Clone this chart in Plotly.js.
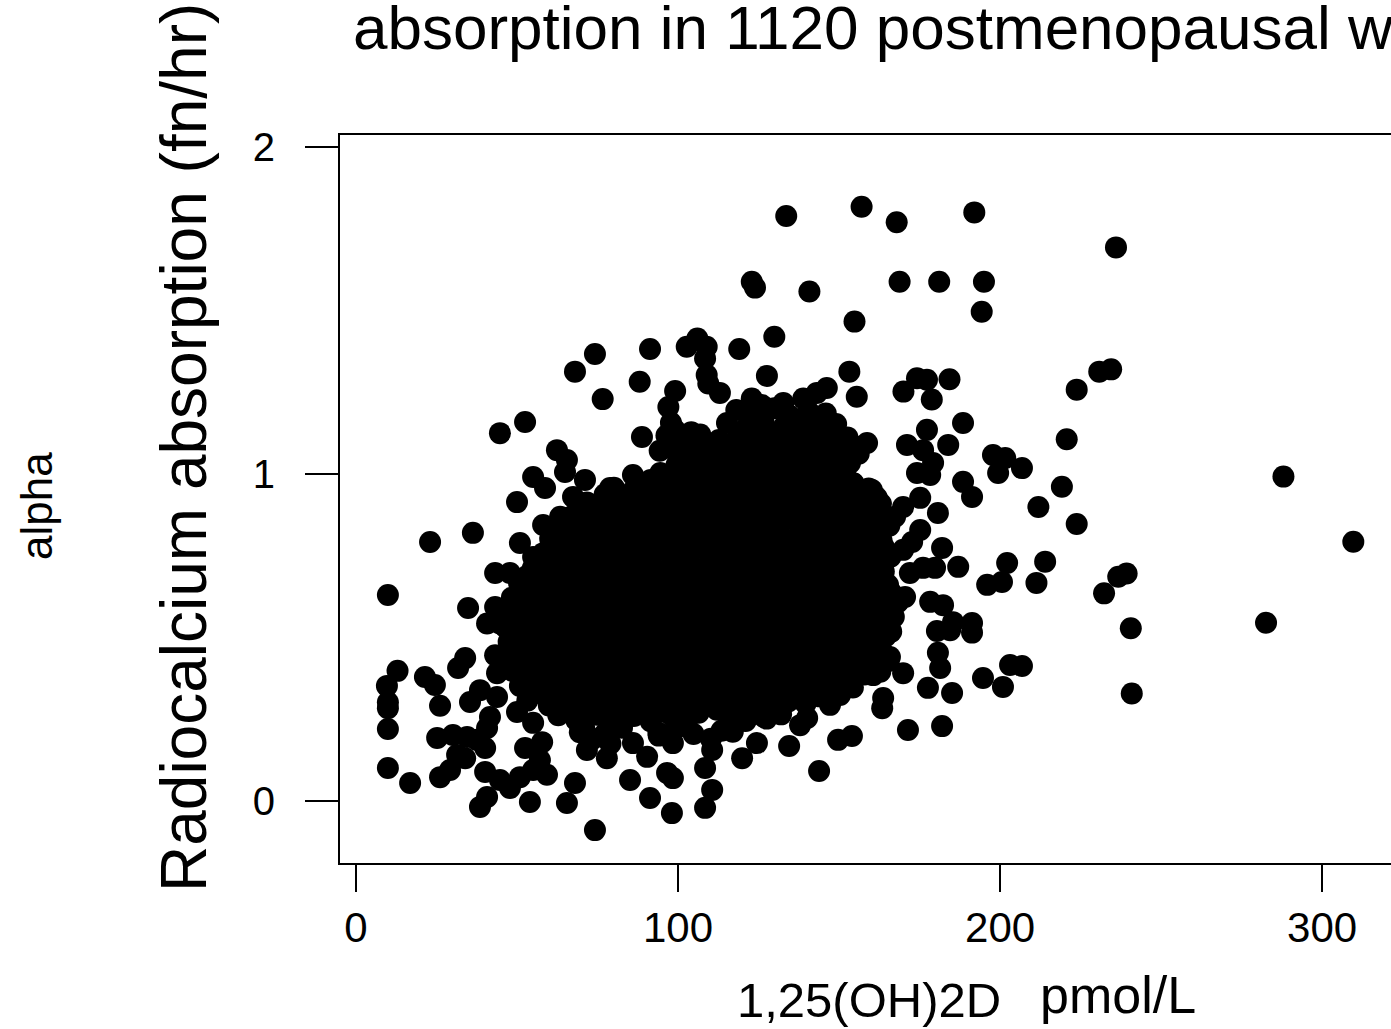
<!DOCTYPE html>
<html>
<head>
<meta charset="utf-8">
<script src="https://cdn.plot.ly/plotly-3.0.1.min.js"></script>
<style>
html,body{margin:0;padding:0;background:#fff;overflow:hidden;width:1391px;height:1029px;}
#chart{width:1391px;height:1029px;}
</style>
</head>
<body>
<div id="chart"></div>
<script>
// Tick labels
const xTickVals = [0, 100, 200, 300];
const xTickText = ['0', '100', '200', '300'];
const yTickVals = [0, 1, 2];
const yTickText = ['0', '1', '2'];

// Text
const titleText = 'absorption in 1120 postmenopausal women';
const yLabel = 'Radiocalcium absorption (fn/hr)';
const sideLabel = 'alpha';
const xLabelLeft = '1,25(OH)2D';
const xLabelRight = 'pmol/L';

// [1,25(OH)2D pmol/L, radiocalcium absorption fn/hr]
const upperOutliers = [
 [133.6,1.789],[157.0,1.817],[167.9,1.770],[192.0,1.800],[236.0,1.693],
 [122.9,1.588],[123.9,1.570],[140.8,1.558],[168.8,1.588],[181.1,1.588],[195.0,1.588],[194.3,1.496],[154.8,1.466],[129.9,1.420],
 [74.2,1.367],[68.0,1.313],[76.6,1.229],[91.3,1.382],[88.1,1.282],[99.1,1.254],[102.7,1.389],[106.0,1.414],[108.9,1.389],[108.4,1.353],
 [108.9,1.303],[109.4,1.277],[113.0,1.248],[97.0,1.205],[119.0,1.382],[127.6,1.300],[153.2,1.313],[155.5,1.236],
 [122.9,1.231],[126.0,1.211],[132.7,1.217],[138.9,1.231],[143.1,1.248],[146.2,1.263],
 [170.0,1.252],[174.2,1.293],[177.3,1.288],[178.8,1.228],[184.3,1.290],
 [223.8,1.258],[230.8,1.313],[234.5,1.320]
];

const rightSide = [
 [115.2,1.156],[188.5,1.156],[177.3,1.135],[171.1,1.089],[176.1,1.073],[183.9,1.089],[179.2,1.034],[174.2,1.003],[178.3,0.997],
 [197.8,1.058],[201.6,1.049],[199.4,1.003],[206.8,1.018],[188.5,0.976],[191.3,0.930],[211.9,0.899],[175.2,0.927],[169.9,0.899],
 [167.4,0.869],[180.7,0.881],[175.2,0.829],[172.7,0.792],[169.9,0.768],[182.0,0.774],[187.0,0.716],[202.2,0.728],[200.6,0.670],
 [196.0,0.661],[211.3,0.667],[172.0,0.697],[176.1,0.713],[179.8,0.713],[170.5,0.624],[167.4,0.606],[178.3,0.609],[182.3,0.599],
 [185.4,0.547],[191.3,0.544],[158.7,1.095],[155.6,1.083],[153.4,1.034],[154.3,0.972],[160.2,0.951],[159.6,0.890],[157.5,0.859],
 [160.6,0.844],[220.7,1.106],[219.2,0.961],[223.8,0.847],[214.0,0.732],[236.7,0.686],[239.3,0.696],[232.3,0.635],[240.6,0.528],
 [288.0,0.992],[309.7,0.793],[282.6,0.545],[240.9,0.329],[180.4,0.520],[184.5,0.522],[191.3,0.515]
];

const lowerRight = [
 [108.4,-0.021],[110.6,0.034],[108.4,0.101],[110.6,0.156],[119.9,0.131],[124.5,0.177],[134.5,0.168],[143.8,0.092],[149.7,0.187],
 [154.0,0.199],[137.9,0.232],[140.1,0.254],[147.2,0.294],[150.3,0.324],[163.4,0.284],[163.7,0.315],[171.4,0.217],[182.0,0.229],
 [160.6,0.385],[165.8,0.440],[169.9,0.391],[177.6,0.346],[185.1,0.330],[181.4,0.407],[180.7,0.453],[194.7,0.376],[200.9,0.349],
 [203.1,0.416],[206.8,0.413],[153.4,0.453],[104.8,0.205],[110.2,0.190],[113.5,0.215],[121.0,0.245],[127.5,0.252],[132.0,0.265],
 [136.3,0.400],[141.0,0.370],[147.5,0.382],[144.0,0.320]
];

const leftTail = [
 [12.9,0.398],[9.6,0.352],[9.9,0.302],[9.9,0.284],[9.9,0.220],[9.9,0.101],[16.8,0.055],[21.4,0.379],[24.5,0.355],[26.1,0.291],
 [33.9,0.437],[31.7,0.407],[43.2,0.446],[43.8,0.391],[38.5,0.339],[43.8,0.318],[35.4,0.303],[41.6,0.257],[40.7,0.223],[25.2,0.193],
 [30.1,0.202],[34.5,0.196],[37.6,0.187],[31.4,0.141],[33.9,0.131],[26.1,0.073],[29.2,0.095],[40.1,0.162],[40.1,0.089],[44.7,0.064],
 [47.8,0.040],[40.7,0.012],[38.5,-0.018],[54.0,-0.003],[50.9,0.073],[55.0,0.095],[59.3,0.080],[52.5,0.162],[57.8,0.180],[57.1,0.125],
 [50.0,0.272],[55.0,0.239],[68.0,0.055],[65.5,-0.006],[74.2,-0.089],[71.7,0.156],[77.9,0.131],[85.1,0.064],[91.3,0.009],[98.1,-0.037],
 [96.6,0.086],[98.4,0.070],[86.0,0.177],[90.4,0.135],[98.4,0.177],[69.5,0.210],[73.5,0.190],[79.0,0.175],[94.0,0.200],[101.0,0.230],
 [44.7,1.125],[52.5,1.159],[88.8,1.113],[62.4,1.073],[65.5,1.043],[64.9,1.006],[55.0,0.991],[58.7,0.957],[71.1,0.982],[67.4,0.930],
 [50.0,0.914],[78.9,0.957],[86.0,0.997],[88.8,0.957],[23.0,0.792],[36.3,0.820],[50.9,0.789],[9.9,0.630],[43.2,0.697],[47.8,0.697],
 [34.8,0.590],[43.2,0.593],[40.7,0.543],[44.7,0.543],[51.6,0.667],[55.0,0.746],[60.2,0.777],[58.1,0.844],[63.4,0.869],[75.8,0.910],
 [81.0,0.930]
];

const denseCore = [
 [118.1,1.196],[123.6,1.183],[129.9,1.201],[134.7,1.178],[140.5,1.192],[145.9,1.185],
 [97.8,1.157],[121.2,1.142],[126.5,1.161],[132.9,1.146],[138.3,1.158],[143.6,1.139],[149.1,1.153],
 [96.4,1.118],[101.2,1.102],[106.9,1.121],[112.7,1.104],[118.8,1.115],[124.0,1.098],[130.3,1.117],[135.7,1.106],[141.5,1.120],[147.2,1.101],[152.6,1.112],
 [94.3,1.071],[99.9,1.058],[105.6,1.074],[110.4,1.060],[116.9,1.069],[122.5,1.055],[128.2,1.072],[133.4,1.061],[139.6,1.075],[144.8,1.057],[150.7,1.068],[156.1,1.062],
 [99.5,1.027],[105.1,1.012],[111.6,1.029],[117.0,1.014],[122.8,1.024],[128.9,1.009],[134.2,1.026],[140.1,1.015],[146.3,1.028],[151.8,1.011],
 [91.5,0.982],[97.2,0.968],[102.6,0.985],[108.9,0.969],[114.1,0.980],[119.8,0.964],[126.0,0.983],[131.2,0.971],[137.4,0.986],[142.8,0.966],[148.9,0.978],[154.5,0.972],
 [77.2,0.937],[83.0,0.921],[88.4,0.940],[94.1,0.924],[99.3,0.935],[105.5,0.918],[110.9,0.938],[116.6,0.926],[122.9,0.941],[128.0,0.920],[134.4,0.933],[139.5,0.925],[145.8,0.939],[151.2,0.922],[156.9,0.934],[161.7,0.928],
 [68.9,0.892],[74.6,0.877],[80.1,0.894],[85.8,0.879],[91.7,0.890],[97.1,0.874],[103.3,0.893],[108.2,0.881],[114.6,0.896],[120.4,0.876],[125.5,0.888],[131.9,0.880],[137.3,0.895],[142.7,0.878],[148.6,0.889],[154.8,0.883],[160.3,0.891],
 [63.2,0.847],[69.4,0.832],[74.5,0.849],[80.9,0.834],[86.0,0.845],[92.3,0.829],[97.5,0.848],[103.9,0.836],[109.1,0.851],[115.4,0.831],[120.6,0.843],[126.8,0.835],[132.0,0.850],[138.3,0.833],[143.5,0.844],[149.8,0.838],[155.2,0.846],[161.0,0.830],[165.6,0.842],
 [60.3,0.802],[65.4,0.787],[71.9,0.804],[77.0,0.789],[83.5,0.800],[88.6,0.784],[94.9,0.803],[100.0,0.791],[106.4,0.806],[111.7,0.786],[117.9,0.798],[123.1,0.790],[129.4,0.805],[134.6,0.788],[140.9,0.799],[146.1,0.793],[152.5,0.801],[157.6,0.785],[163.2,0.797],
 [58.0,0.757],[64.1,0.742],[69.2,0.759],[75.7,0.744],[80.8,0.755],[87.2,0.739],[92.4,0.758],[98.6,0.746],[103.8,0.761],[110.1,0.741],[115.3,0.753],[121.6,0.745],[126.7,0.760],[133.1,0.743],[138.2,0.754],[144.5,0.748],[149.7,0.756],[156.0,0.740],[161.1,0.752],[166.0,0.747],
 [54.9,0.712],[60.1,0.697],[66.5,0.714],[71.6,0.699],[78.0,0.710],[83.2,0.694],[89.5,0.713],[94.7,0.701],[101.0,0.716],[106.2,0.696],[112.6,0.708],[117.7,0.700],[124.1,0.715],[129.2,0.698],[135.6,0.709],[140.8,0.703],[147.1,0.711],[152.3,0.695],[158.6,0.707],[163.9,0.702],
 [50.6,0.667],[55.7,0.652],[62.1,0.669],[67.2,0.654],[73.6,0.665],[78.7,0.649],[85.1,0.668],[90.2,0.656],[96.6,0.671],[101.8,0.651],[108.1,0.663],[113.3,0.655],[119.6,0.670],[124.8,0.653],[131.1,0.664],[136.3,0.658],[142.7,0.666],[147.8,0.650],[154.2,0.662],[159.4,0.657],[165.2,0.661],
 [48.4,0.622],[54.6,0.607],[59.7,0.624],[66.1,0.609],[71.2,0.620],[77.6,0.604],[82.7,0.623],[89.1,0.611],[94.3,0.626],[100.6,0.606],[105.8,0.618],[112.1,0.610],[117.3,0.625],[123.7,0.608],[128.8,0.619],[135.2,0.613],[140.3,0.621],[146.7,0.605],[151.9,0.617],[158.2,0.612],[163.4,0.620],[168.3,0.608],
 [47.1,0.577],[52.3,0.562],[58.6,0.579],[63.8,0.564],[70.2,0.575],[75.3,0.559],[81.7,0.578],[86.8,0.566],[93.2,0.581],[98.4,0.561],[104.7,0.573],[109.9,0.565],[116.3,0.580],[121.4,0.563],[127.8,0.574],[132.9,0.568],[139.3,0.576],[144.4,0.560],[150.8,0.572],[156.0,0.567],[162.3,0.575],[167.0,0.563],
 [46.3,0.532],[51.0,0.517],[57.4,0.534],[62.6,0.519],[68.9,0.530],[74.1,0.514],[80.5,0.533],[85.6,0.521],[92.0,0.536],[97.1,0.516],[103.5,0.528],[108.6,0.520],[115.0,0.535],[120.2,0.518],[126.5,0.529],[131.7,0.523],[138.1,0.531],[143.2,0.515],[149.6,0.527],[154.7,0.522],[161.1,0.530],[166.2,0.518],
 [47.4,0.487],[53.7,0.472],[58.9,0.489],[65.2,0.474],[70.4,0.485],[76.8,0.469],[81.9,0.488],[88.3,0.476],[93.4,0.491],[99.8,0.471],[104.9,0.483],[111.3,0.475],[116.5,0.490],[122.8,0.473],[128.0,0.484],[134.4,0.478],[139.5,0.486],[145.9,0.470],[151.0,0.482],[157.4,0.477],[162.6,0.485],
 [46.0,0.442],[51.4,0.427],[57.8,0.444],[62.9,0.429],[69.3,0.440],[74.4,0.424],[80.8,0.443],[86.0,0.431],[92.3,0.446],[97.5,0.426],[103.8,0.438],[109.0,0.430],[115.4,0.445],[120.5,0.428],[126.9,0.439],[132.1,0.433],[138.4,0.441],[143.6,0.425],[150.0,0.437],[155.1,0.432],[160.7,0.440],[165.4,0.428],
 [48.7,0.397],[54.8,0.382],[60.0,0.399],[66.4,0.384],[71.5,0.395],[77.9,0.379],[83.0,0.398],[89.4,0.386],[94.6,0.401],[100.9,0.381],[106.1,0.393],[112.5,0.385],[117.6,0.400],[124.0,0.383],[129.1,0.394],[135.5,0.388],[140.7,0.396],[147.0,0.380],[152.2,0.392],[158.0,0.387],[162.8,0.395],
 [50.9,0.352],[57.2,0.337],[62.4,0.354],[68.7,0.339],[73.9,0.350],[80.3,0.334],[85.4,0.353],[91.8,0.341],[96.9,0.356],[103.3,0.336],[108.5,0.348],[114.8,0.340],[120.0,0.355],[126.4,0.338],[131.5,0.349],[137.9,0.343],[143.0,0.351],[149.1,0.335],[154.3,0.347],
 [53.2,0.307],[59.9,0.292],[65.0,0.309],[71.4,0.294],[76.5,0.305],[82.9,0.289],[88.1,0.308],[94.4,0.296],[99.6,0.311],[106.0,0.291],[111.1,0.303],[117.5,0.295],[122.6,0.310],[129.0,0.293],[134.2,0.304],[139.6,0.298],
 [62.8,0.262],[68.4,0.247],[74.8,0.264],[79.9,0.249],[86.3,0.260],[91.5,0.244],[97.8,0.263],[103.0,0.251],[115.1,0.266],[120.3,0.246],[126.6,0.258],
 [70.9,0.222],[77.4,0.207],[82.6,0.224],[93.9,0.209],[99.1,0.220],[117.0,0.212]
];

// further overlapping points inside the solid centre of the cloud
const denseCoreFill = [
 [99.0,1.135],[104.1,1.128],[123.4,1.137],[129.4,1.126],[135.1,1.134],[140.9,1.129],[146.6,1.136],
 [97.4,1.091],[103.2,1.084],[108.8,1.093],[114.5,1.082],[120.1,1.090],[126.0,1.085],[131.6,1.094],[137.4,1.083],[143.1,1.089],[149.0,1.086],
 [102.3,1.046],[108.0,1.036],[114.2,1.044],[119.9,1.035],[125.6,1.043],[131.5,1.037],[137.1,1.045],[143.0,1.034],[148.8,1.042],
 [94.5,1.003],[100.2,0.992],[106.0,1.001],[111.9,0.990],[117.4,0.999],[123.3,0.993],[128.8,1.002],[134.6,0.991],[140.3,1.000],[146.1,0.994],[151.9,0.998],
 [80.1,0.958],[85.9,0.947],[91.3,0.956],[96.9,0.946],[102.4,0.955],[108.3,0.948],[113.8,0.957],[119.6,0.945],[125.6,0.954],[131.2,0.949],[137.0,0.958],[142.6,0.946],[148.5,0.953],[154.1,0.950],[159.2,0.956],
 [71.7,0.913],[77.4,0.902],[83.1,0.911],[88.9,0.901],[94.5,0.910],[100.1,0.903],[105.8,0.912],[111.4,0.900],[117.6,0.909],[123.1,0.904],[128.7,0.913],[134.5,0.901],[140.1,0.908],[145.7,0.905],[151.7,0.911],[157.5,0.902],[163.0,0.909],
 [66.3,0.868],[71.9,0.857],[77.6,0.866],[83.4,0.856],[89.2,0.865],[94.8,0.858],[100.6,0.867],[106.4,0.855],[111.9,0.864],[117.9,0.859],[123.7,0.868],[129.3,0.856],[135.2,0.863],[140.9,0.860],[146.6,0.866],[152.5,0.857],[158.1,0.864],[163.3,0.861],
 [61.8,0.823],[68.1,0.812],[73.2,0.821],[79.4,0.811],[85.0,0.820],[90.9,0.813],[96.6,0.822],[102.5,0.810],[108.3,0.819],[114.2,0.814],[119.8,0.823],[125.9,0.811],[131.5,0.818],[137.6,0.815],[143.2,0.821],[149.3,0.812],[154.8,0.819],[160.5,0.816],
 [60.7,0.778],[66.3,0.767],[72.5,0.776],[78.1,0.766],[84.3,0.775],[89.7,0.768],[95.8,0.777],[101.2,0.765],[107.3,0.774],[112.7,0.769],[118.8,0.778],[124.2,0.766],[130.0,0.773],[135.7,0.770],[141.6,0.776],[147.1,0.767],[153.0,0.774],[158.8,0.771],[163.9,0.777],
 [57.0,0.733],[62.8,0.722],[68.6,0.731],[74.5,0.721],[80.0,0.730],[86.1,0.723],[91.6,0.732],[97.8,0.720],[103.4,0.729],[109.4,0.724],[115.0,0.733],[121.0,0.721],[126.6,0.728],[132.4,0.725],[138.1,0.731],[144.0,0.722],[149.7,0.729],[155.5,0.726],[161.2,0.732],
 [53.1,0.688],[58.9,0.677],[64.7,0.686],[70.4,0.676],[76.3,0.685],[81.9,0.678],[87.8,0.687],[93.4,0.675],[99.4,0.684],[105.0,0.679],[110.9,0.688],[116.5,0.676],[122.4,0.683],[128.1,0.680],[133.9,0.686],[139.5,0.677],[145.3,0.684],[151.0,0.681],[156.8,0.687],[162.5,0.678],
 [51.5,0.643],[57.1,0.632],[62.9,0.641],[68.6,0.631],[74.4,0.640],[80.2,0.633],[85.9,0.642],[91.7,0.630],[97.5,0.639],[103.2,0.634],[109.0,0.643],[114.7,0.631],[120.5,0.638],[126.2,0.635],[132.0,0.641],[137.8,0.632],[143.5,0.639],[149.3,0.636],[155.1,0.642],[160.8,0.633],[166.0,0.640],
 [50.0,0.598],[55.5,0.587],[61.2,0.596],[67.0,0.586],[72.8,0.595],[78.5,0.588],[84.3,0.597],[90.1,0.585],[95.8,0.594],[101.6,0.589],[107.4,0.598],[113.1,0.586],[118.9,0.593],[124.6,0.590],[130.4,0.596],[136.2,0.587],[141.9,0.594],[147.7,0.591],[153.5,0.597],[159.2,0.588],[164.8,0.595],
 [49.0,0.553],[54.8,0.542],[60.5,0.551],[66.3,0.541],[72.0,0.550],[77.8,0.543],[83.5,0.552],[89.3,0.540],[95.1,0.549],[100.8,0.544],[106.6,0.553],[112.3,0.541],[118.1,0.548],[123.9,0.545],[129.6,0.551],[135.4,0.542],[141.2,0.549],[146.9,0.546],[152.7,0.552],[158.4,0.543],[163.9,0.550],
 [50.3,0.508],[56.0,0.497],[61.8,0.506],[67.5,0.496],[73.3,0.505],[79.0,0.498],[84.8,0.507],[90.6,0.495],[96.3,0.504],[102.1,0.499],[107.9,0.508],[113.6,0.496],[119.4,0.503],[125.1,0.500],[130.9,0.506],[136.7,0.497],[142.4,0.504],[148.2,0.501],[154.0,0.507],[159.7,0.498],[164.6,0.505],
 [49.2,0.463],[55.0,0.452],[60.7,0.461],[66.5,0.451],[72.2,0.460],[78.0,0.453],[83.7,0.462],[89.5,0.450],[95.3,0.459],[101.0,0.454],[106.8,0.463],[112.6,0.451],[118.3,0.458],[124.1,0.455],[129.8,0.461],[135.6,0.452],[141.4,0.459],[147.1,0.456],[152.9,0.462],[158.5,0.453],[163.2,0.460],
 [51.6,0.418],[57.4,0.407],[63.1,0.416],[68.9,0.406],[74.6,0.415],[80.4,0.408],[86.2,0.417],[91.9,0.405],[97.7,0.414],[103.5,0.409],[109.2,0.418],[115.0,0.406],[120.7,0.413],[126.5,0.410],[132.3,0.416],[138.0,0.407],[143.8,0.414],[149.6,0.411],[155.1,0.417],[160.3,0.408],
 [54.1,0.373],[59.9,0.362],[65.6,0.371],[71.4,0.361],[77.1,0.370],[82.9,0.363],[88.6,0.372],[94.4,0.360],[100.2,0.369],[105.9,0.364],[111.7,0.373],[117.4,0.361],[123.2,0.368],[129.0,0.365],[134.7,0.371],[140.5,0.362],[146.2,0.369],[151.8,0.366],
 [57.8,0.328],[63.6,0.317],[69.4,0.326],[75.1,0.316],[80.9,0.325],[86.6,0.318],[92.4,0.327],[98.2,0.315],[103.9,0.324],[109.7,0.319],[115.4,0.328],[121.2,0.316],[127.0,0.323],[132.7,0.320],[137.9,0.326],
 [66.0,0.283],[71.8,0.272],[77.6,0.281],[83.3,0.271],[89.1,0.280],[94.9,0.273],[100.6,0.282],[106.4,0.270],[112.1,0.279],[118.0,0.274],[123.6,0.283]
];

const allPoints = [].concat(denseCore, denseCoreFill, upperOutliers, rightSide, lowerRight, leftTail);
const vitD = allPoints.map(p => p[0]);
const absorption = allPoints.map(p => p[1]);

const FONT = 'Liberation Sans, Arial, Helvetica, sans-serif';

// plot area in pixels: left 340, top 135, right 1391, bottom 863
const PL = 340, PT = 135, PR = 1391, PB = 863;
const px2paperX = v => (v - PL) / (PR - PL);
const px2paperY = v => (PB - v) / (PB - PT);

const trace = {
  type: 'scatter',
  mode: 'markers',
  x: vitD,
  y: absorption,
  marker: {color: '#000', size: 22, line: {width: 0}},
  hoverinfo: 'x+y'
};

const layout = {
  width: 1391,
  height: 1029,
  margin: {l: PL, r: 1391 - PR, t: PT, b: 1029 - PB, pad: 0},
  paper_bgcolor: '#fff',
  plot_bgcolor: '#fff',
  showlegend: false,
  font: {family: FONT, color: '#000'},
  xaxis: {
    range: [-4.97, 321.4],
    tickmode: 'array', tickvals: xTickVals, ticktext: xTickText,
    ticks: 'outside', ticklen: 27, tickwidth: 1.5, tickcolor: '#000',
    showline: true, linewidth: 2, linecolor: '#000', mirror: true,
    showgrid: false, zeroline: false,
    tickfont: {family: FONT, size: 42, color: '#000'}
  },
  yaxis: {
    range: [-0.1896, 2.0367],
    tickmode: 'array', tickvals: yTickVals, ticktext: yTickText,
    ticks: 'outside', ticklen: 33, tickwidth: 1.5, tickcolor: '#000',
    ticklabelstandoff: 22,
    showline: true, linewidth: 2, linecolor: '#000', mirror: false,
    showgrid: false, zeroline: false,
    tickfont: {family: FONT, size: 40, color: '#000'}
  },
  annotations: [
    {text: titleText, xref: 'paper', yref: 'paper', x: px2paperX(351), y: px2paperY(27.5),
     xanchor: 'left', yanchor: 'middle', showarrow: false, font: {family: FONT, size: 62, color: '#000'}},
    {text: yLabel, xref: 'paper', yref: 'paper', x: px2paperX(184), y: px2paperY(448),
     xanchor: 'center', yanchor: 'middle', textangle: -90, showarrow: false, font: {family: FONT, size: 64, color: '#000'}},
    {text: sideLabel, xref: 'paper', yref: 'paper', x: px2paperX(36), y: px2paperY(506),
     xanchor: 'center', yanchor: 'middle', textangle: -90, showarrow: false, font: {family: FONT, size: 44, color: '#000'}},
    {text: xLabelLeft, xref: 'paper', yref: 'paper', x: px2paperX(735), y: px2paperY(1000),
     xanchor: 'left', yanchor: 'middle', showarrow: false, font: {family: FONT, size: 49, color: '#000'}},
    {text: xLabelRight, xref: 'paper', yref: 'paper', x: px2paperX(1038), y: px2paperY(995),
     xanchor: 'left', yanchor: 'middle', showarrow: false, font: {family: FONT, size: 52, color: '#000'}}
  ]
};

Plotly.newPlot('chart', [trace], layout, {staticPlot: true, displayModeBar: false});
</script>
</body>
</html>
